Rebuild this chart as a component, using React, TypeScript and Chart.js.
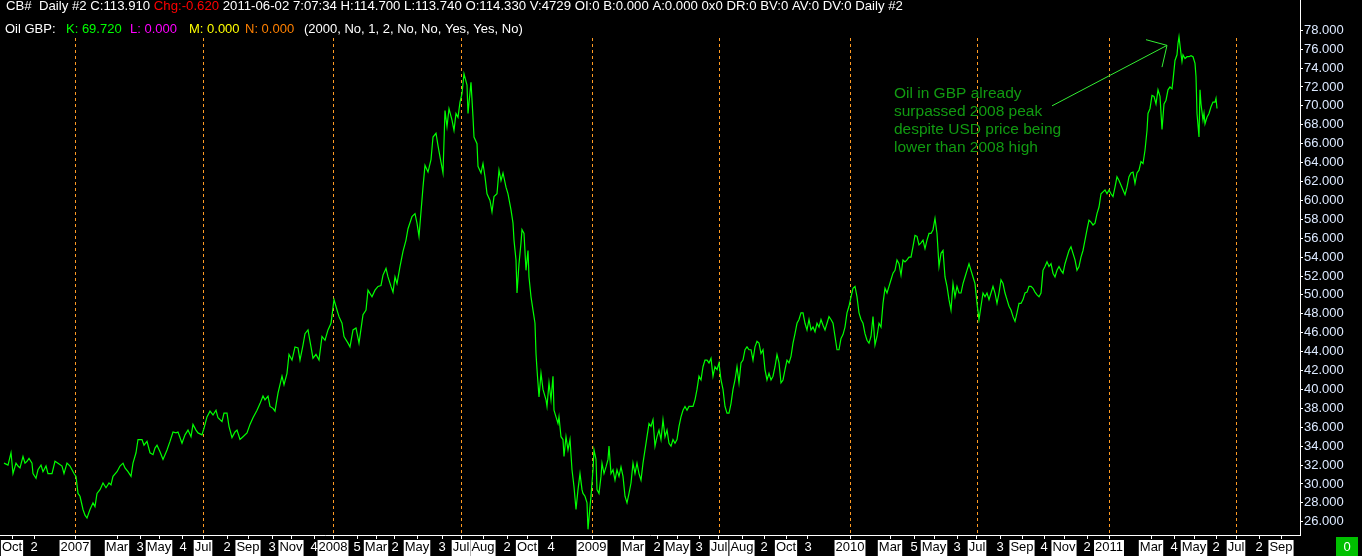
import React, { useEffect, useRef } from "react";
import { Chart, registerables } from "chart.js";

Chart.register(...registerables);

const FONT = "Arial, 'Liberation Sans', sans-serif";

// [trading day index, Oil price in GBP]
const oilGbpLate2006: [number, number][] = [
  [4, 32.2], [8, 32.0], [11, 33.3], [13, 31.1], [16, 32.2], [18, 31.9], [20, 31.7], [23, 32.9], [25, 32.2], [27, 32.4],
  [29, 32.7], [32, 32.2], [33, 31.1], [36, 30.6], [38, 31.5], [41, 32.0], [43, 31.3], [46, 31.9], [48, 31.1], [52, 31.1],
  [55, 32.4], [58, 32.2], [62, 31.9], [64, 31.1], [67, 32.2], [70, 31.9], [74, 31.1], [76, 30.8],
];

const oilGbp2007: [number, number][] = [
  [78, 29.0], [80, 28.7], [83, 27.3], [85, 26.7], [87, 26.4], [90, 27.3], [93, 28.0], [95, 27.6], [97, 29.0], [100, 29.4],
  [103, 30.1], [106, 29.6], [109, 30.1], [111, 29.9], [113, 30.8], [117, 31.3], [120, 31.9], [123, 32.2], [125, 31.7], [128, 31.3],
  [131, 30.8], [133, 32.2], [136, 33.3], [138, 34.7], [142, 34.7], [144, 34.1], [147, 34.5], [150, 33.3], [153, 33.1], [155, 33.8],
  [157, 34.1], [160, 33.4], [163, 32.6], [167, 33.6], [170, 34.5], [173, 35.5], [176, 35.4], [178, 35.5], [182, 34.3], [185, 35.2],
  [188, 35.7], [191, 35.0], [193, 36.3], [196, 35.7], [198, 35.4], [202, 35.2], [204, 35.9], [207, 37.1], [210, 37.7], [213, 37.3],
  [216, 37.8], [218, 37.0], [222, 36.6], [224, 37.5], [227, 37.5], [229, 36.1], [232, 34.9], [235, 35.5], [237, 35.7], [240, 34.7],
  [243, 35.0], [247, 35.4], [250, 36.3], [253, 37.0], [257, 37.8], [260, 38.5], [263, 39.3], [265, 38.9], [268, 39.3], [270, 38.2],
  [273, 38.0], [275, 37.7], [278, 39.6], [282, 41.4], [284, 40.5], [287, 41.7], [289, 43.7], [292, 43.1], [295, 44.5], [298, 44.4],
  [300, 43.1], [303, 44.7], [305, 45.9], [308, 46.3], [311, 44.5], [313, 43.3], [316, 43.7], [319, 43.1], [322, 45.6], [325, 45.2],
  [328, 46.3], [331, 47.0],
];

const oilGbp2008: [number, number][] = [
  [334, 49.5], [337, 48.4], [339, 47.7], [342, 47.0], [344, 45.6], [348, 44.9], [350, 44.5], [353, 46.3], [356, 46.5], [359, 44.9],
  [363, 47.9], [366, 48.4], [368, 50.5], [372, 49.8], [375, 50.5], [378, 50.9], [381, 51.0], [383, 52.1], [386, 52.8], [388, 51.9],
  [391, 50.9], [393, 50.3], [395, 51.9], [397, 51.2], [400, 53.0], [403, 54.6], [406, 55.8], [408, 57.0], [412, 58.3], [415, 58.6],
  [417, 57.6], [419, 56.2], [421, 58.8], [423, 61.4], [425, 63.7], [428, 63.0], [431, 64.3], [433, 66.7], [436, 67.1], [438, 65.8],
  [440, 64.6], [443, 62.9], [445, 69.5], [447, 67.8], [449, 69.7], [452, 68.5], [454, 67.4], [456, 69.2], [458, 68.8], [460, 70.4],
  [462, 71.3], [464, 73.4], [467, 72.2], [468, 69.2], [471, 72.5], [473, 68.8], [474, 66.7], [477, 66.0], [478, 63.6], [481, 62.9],
  [483, 63.9], [485, 62.5], [487, 60.7], [490, 60.0], [492, 58.8], [494, 60.4], [497, 60.7], [499, 63.2], [501, 62.1], [503, 62.9],
  [506, 61.4], [508, 60.7], [511, 59.0], [513, 57.6], [514, 55.8], [516, 53.7], [517, 50.2], [519, 53.3], [521, 55.5], [522, 56.9],
  [524, 56.5], [526, 52.6], [528, 54.7], [529, 51.9], [531, 49.8], [533, 48.4], [535, 47.0], [536, 43.8], [537, 42.1], [539, 39.2],
  [541, 41.7], [543, 40.0], [546, 38.9], [547, 38.2], [549, 40.7], [551, 38.9], [553, 41.4], [554, 37.8], [556, 37.1], [558, 36.4],
  [559, 37.1], [561, 35.0], [563, 34.7], [564, 32.9], [566, 35.0], [568, 33.6], [570, 34.7], [572, 31.5], [574, 29.7], [576, 27.3],
  [578, 29.4], [580, 31.1], [582, 29.4], [583, 29.0], [585, 28.7], [587, 28.0], [588, 25.2], [590, 27.6],
];

const oilGbp2009: [number, number][] = [
  [591, 28.7], [593, 31.5], [594, 33.6], [596, 32.6], [597, 29.4], [599, 29.0], [601, 30.8], [602, 32.2], [604, 31.1], [606, 31.8],
  [608, 32.6], [609, 34.0], [611, 31.1], [613, 31.5], [615, 30.4], [617, 31.5], [619, 30.8], [621, 31.8], [623, 30.8], [625, 28.7],
  [627, 28.0], [629, 29.0], [631, 30.1], [633, 32.2], [635, 31.1], [637, 32.2], [639, 31.1], [641, 30.4], [643, 32.2], [645, 33.6],
  [647, 35.0], [649, 36.4], [651, 36.1], [653, 36.8], [655, 34.0], [657, 35.0], [659, 35.7], [661, 34.7], [663, 36.8], [665, 35.0],
  [667, 35.7], [669, 34.3], [671, 34.0], [673, 34.7], [675, 34.3], [677, 34.7], [679, 36.1], [681, 37.1], [683, 37.8], [685, 38.2],
  [687, 37.8], [689, 38.2], [691, 38.2], [693, 38.2], [695, 38.9], [697, 40.0], [699, 41.4], [701, 41.0], [703, 42.4], [705, 43.1],
  [707, 43.1], [709, 42.8], [711, 43.3], [713, 41.4], [715, 42.4], [717, 42.1], [719, 42.8], [721, 41.0], [723, 40.0], [725, 38.2],
  [727, 37.5], [729, 37.5], [731, 38.5], [733, 40.0], [735, 41.0], [737, 42.4], [739, 40.7], [741, 42.8], [743, 43.1], [745, 44.2],
  [747, 44.5], [749, 44.2], [751, 44.2], [753, 43.1], [755, 44.5], [757, 45.1], [759, 44.9], [761, 43.8], [763, 44.2], [765, 42.1],
  [767, 41.0], [769, 41.7], [771, 41.0], [773, 41.4], [775, 42.4], [777, 43.7], [779, 42.8], [781, 40.7], [783, 41.0], [785, 42.1],
  [787, 43.1], [789, 42.8], [791, 43.5], [793, 44.9], [795, 45.9], [797, 47.0], [799, 47.4], [801, 48.1], [803, 48.1], [805, 47.0],
  [807, 46.3], [809, 47.4], [811, 46.3], [813, 46.6], [815, 46.1], [817, 47.0], [819, 46.6], [821, 47.4], [823, 46.8], [825, 46.3],
  [827, 47.0], [829, 47.7], [831, 47.4], [833, 47.0], [835, 45.6], [837, 44.2], [839, 44.2], [841, 45.4], [843, 45.8], [845, 46.6],
  [847, 48.1],
];

const oilGbp2010: [number, number][] = [
  [849, 48.8], [851, 49.8], [853, 50.7], [855, 50.9], [857, 49.8], [859, 48.1], [861, 47.4], [863, 47.0], [865, 45.9], [867, 45.2],
  [869, 44.9], [871, 45.6], [873, 47.7], [875, 44.7], [877, 45.6], [879, 47.0], [881, 46.6], [883, 49.1], [885, 50.7], [887, 50.2],
  [889, 50.9], [891, 51.6], [893, 52.3], [895, 52.6], [897, 53.7], [899, 53.3], [901, 52.1], [903, 53.7], [905, 53.5], [907, 53.7],
  [909, 54.0], [911, 54.0], [913, 55.1], [915, 56.3], [917, 56.2], [919, 55.3], [921, 55.5], [923, 55.8], [925, 54.9], [927, 55.8],
  [929, 56.5], [931, 56.5], [933, 56.9], [935, 58.1], [937, 56.5], [939, 53.0], [941, 54.4], [943, 54.7], [945, 51.9], [947, 50.9],
  [949, 49.5], [951, 48.4], [953, 51.2], [955, 49.8], [957, 50.9], [959, 50.2], [961, 50.2], [963, 51.2], [965, 51.9], [967, 52.6],
  [969, 53.3], [971, 52.6], [973, 51.9], [975, 51.2], [977, 49.1], [979, 47.4], [981, 48.8], [983, 50.2], [985, 49.8], [987, 50.2],
  [989, 49.5], [991, 50.2], [993, 50.9], [995, 50.2], [997, 49.1], [999, 50.2], [1001, 51.6], [1003, 51.2], [1005, 50.2], [1007, 49.5],
  [1009, 48.8], [1011, 48.4], [1013, 47.7], [1015, 47.2], [1017, 48.1], [1019, 49.1], [1021, 49.1], [1023, 49.5], [1025, 50.2], [1027, 50.3],
  [1029, 50.9], [1031, 50.9], [1033, 50.7], [1035, 50.3], [1037, 50.0], [1039, 49.8], [1041, 50.2], [1043, 52.6], [1045, 53.0], [1047, 53.5],
  [1049, 53.0], [1051, 53.3], [1053, 52.3], [1055, 51.9], [1057, 52.6], [1059, 53.0], [1061, 52.6], [1063, 52.3], [1065, 53.3], [1067, 54.0],
  [1069, 54.7], [1071, 55.1], [1073, 54.4], [1075, 53.7], [1077, 52.6], [1079, 53.0], [1081, 54.0], [1083, 54.7], [1085, 55.8], [1087, 56.9],
  [1089, 57.9], [1091, 57.7], [1093, 57.4], [1095, 57.6], [1097, 58.6], [1099, 59.3], [1101, 60.7], [1103, 60.9], [1105, 61.1], [1107, 60.7],
];

const oilGbp2011: [number, number][] = [
  [1109, 61.1], [1111, 60.7], [1113, 60.4], [1115, 61.4], [1117, 62.5], [1119, 62.1], [1121, 61.6], [1123, 61.1], [1125, 60.6], [1127, 61.4],
  [1129, 62.5], [1131, 62.9], [1133, 63.0], [1135, 61.8], [1137, 62.9], [1139, 63.2], [1141, 64.1], [1143, 63.9], [1145, 65.3], [1147, 67.4],
  [1148, 69.2], [1150, 69.7], [1152, 71.1], [1154, 71.0], [1156, 70.2], [1158, 71.7], [1160, 71.0], [1162, 67.5], [1164, 70.2], [1166, 70.6],
  [1168, 71.7], [1170, 72.0], [1172, 71.8], [1173, 72.7], [1175, 74.8], [1177, 75.4], [1178, 76.6], [1179, 77.3], [1181, 75.5], [1182, 74.7],
  [1183, 75.4], [1185, 75.0], [1187, 75.2], [1189, 75.2], [1191, 75.3], [1193, 75.2], [1195, 74.5], [1196, 73.1], [1197, 69.2], [1199, 66.7],
  [1200, 71.7], [1201, 70.2], [1203, 68.5], [1204, 69.2], [1205, 68.1], [1207, 68.8], [1209, 69.2], [1211, 69.9], [1213, 70.4], [1215, 70.4],
  [1216, 70.8], [1217, 69.72],
];

const xTickDays = [
  12, 34, 75, 117, 140, 159, 183, 203, 227, 248, 272, 291, 314, 333, 357, 376, 395, 417, 442, 461,
  483, 507, 527, 551, 592, 633, 657, 677, 699, 719, 742, 764, 786, 808, 850, 890, 914, 934, 957, 977,
  1000, 1022, 1044, 1064, 1087, 1109, 1151, 1174, 1194, 1216, 1236, 1259, 1281,
];
const xTickLabels = [
  "Oct", "2", "2007", "Mar", "3", "May", "4", "Jul", "2", "Sep", "3", "Nov", "4", "2008", "5", "Mar", "2", "May", "3", "Jul",
  "Aug", "2", "Oct", "4", "2009", "Mar", "2", "May", "3", "Jul", "Aug", "2", "Oct", "3", "2010", "Mar", "5", "May", "3", "Jul",
  "3", "Sep", "4", "Nov", "2", "2011", "Mar", "4", "May", "2", "Jul", "2", "Sep",
];
const yTickValues = [26, 28, 30, 32, 34, 36, 38, 40, 42, 44, 46, 48, 50, 52, 54, 56, 58, 60, 62, 64, 66, 68, 70, 72, 74, 76, 78];

const headerLine1: [string, string][] = [
  ["CB#  Daily #2 C:113.910 ", "#ffffff"],
  ["Chg:-0.620", "#ff0000"],
  [" 2011-06-02 7:07:34 H:114.700 L:113.740 O:114.330 V:4729 OI:0 B:0.000 A:0.000 0x0 DR:0 BV:0 AV:0 DV:0 Daily #2", "#ffffff"],
];
const headerLine2: [string, string, number][] = [
  ["Oil GBP:", "#ffffff", 5],
  ["K: 69.720", "#00ff00", 66],
  ["L: 0.000", "#ff00ff", 130],
  ["M: 0.000", "#ffff00", 189],
  ["N: 0.000", "#ff8000", 245],
  ["(2000, No, 1, 2, No, No, Yes, Yes, No)", "#ffffff", 304],
];
const noteLines = [
  "Oil in GBP already",
  "surpassed 2008 peak",
  "despite USD price being",
  "lower than 2008 high",
];
// annotation anchors in data space [day, price]
const noteTextAnchor: [number, number] = [894, 70.8];
const noteArrowTail: [number, number] = [1052, 70.0];
const noteArrowTip: [number, number] = [1167, 76.4];
const noteArrowHeadA: [number, number] = [1146, 77.0];
const noteArrowHeadB: [number, number] = [1162, 74.1];

const isPlainNumber = (s: string) => /^\d$/.test(s);
const isMajor = (s: string) => s === "Jul" || /^\d{4}$/.test(s);

export default function App() {
  const ref = useRef<HTMLCanvasElement>(null);

  useEffect(() => {
    document.body.style.margin = "0";
    document.body.style.background = "#000";
    const canvas = ref.current;
    if (!canvas) return;

    const points = [
      ...oilGbpLate2006,
      ...oilGbp2007,
      ...oilGbp2008,
      ...oilGbp2009,
      ...oilGbp2010,
      ...oilGbp2011,
    ].map(([x, y]) => ({ x, y }));

    const bgPlugin = {
      id: "bg",
      beforeDraw(chart: any) {
        const { ctx, width, height } = chart;
        ctx.save();
        ctx.fillStyle = "#000";
        ctx.fillRect(0, 0, width, height);
        ctx.restore();
      },
    };

    const gridPlugin = {
      id: "dashedGrid",
      beforeDatasetsDraw(chart: any) {
        const { ctx, chartArea, scales } = chart;
        ctx.save();
        ctx.strokeStyle = "#ff9a22";
        ctx.lineWidth = 1;
        ctx.setLineDash([3, 3]);
        xTickDays.forEach((d, i) => {
          if (!isMajor(xTickLabels[i])) return;
          const px = Math.round(scales.x.getPixelForValue(d)) + 0.5;
          ctx.beginPath();
          ctx.moveTo(px, 38);
          ctx.lineTo(px, chartArea.bottom);
          ctx.stroke();
        });
        ctx.restore();
      },
    };

    const textPlugin = {
      id: "texts",
      afterDraw(chart: any) {
        const { ctx, scales } = chart;
        const toPx = (p: [number, number]) => [scales.x.getPixelForValue(p[0]), scales.y.getPixelForValue(p[1])];
        ctx.save();
        ctx.textAlign = "left";
        ctx.textBaseline = "alphabetic";
        ctx.font = `13.2px ${FONT}`;
        let x = 6;
        headerLine1.forEach(([t, c]) => {
          ctx.fillStyle = c;
          ctx.fillText(t, x, 10);
          x += ctx.measureText(t).width;
        });
        ctx.font = `13px ${FONT}`;
        headerLine2.forEach(([t, c, px]) => {
          ctx.fillStyle = c;
          ctx.fillText(t, px, 33);
        });

        // annotation
        const [tx, ty] = toPx(noteTextAnchor);
        ctx.font = `15.5px ${FONT}`;
        ctx.fillStyle = "#119a11";
        noteLines.forEach((t, i) => ctx.fillText(t, tx, ty + i * 18));

        const tail = toPx(noteArrowTail);
        const tip = toPx(noteArrowTip);
        const ha = toPx(noteArrowHeadA);
        const hb = toPx(noteArrowHeadB);
        ctx.strokeStyle = "#33ee33";
        ctx.lineWidth = 1;
        ctx.beginPath();
        ctx.moveTo(tail[0], tail[1]);
        ctx.lineTo(tip[0], tip[1]);
        ctx.moveTo(ha[0], ha[1]);
        ctx.lineTo(tip[0], tip[1]);
        ctx.lineTo(hb[0], hb[1]);
        ctx.stroke();

        // corner box
        ctx.fillStyle = "#00c000";
        ctx.fillRect(1336, 537, 22, 19);
        ctx.fillStyle = "#ffffff";
        ctx.font = `13px ${FONT}`;
        ctx.textAlign = "center";
        ctx.textBaseline = "middle";
        ctx.fillText("0", 1347, 547);
        ctx.restore();
      },
    };

    const chart = new Chart(canvas, {
      type: "line",
      data: {
        datasets: [
          {
            label: "Oil GBP",
            data: points,
            borderColor: "#00ff00",
            borderWidth: 1.2,
            pointRadius: 0,
            tension: 0,
            fill: false,
          },
        ],
      },
      options: {
        responsive: false,
        devicePixelRatio: 1,
        animation: false,
        layout: { padding: 0 },
        plugins: {
          legend: { display: false },
          tooltip: { enabled: false },
        },
        scales: {
          x: {
            type: "linear",
            position: "bottom",
            min: 0,
            max: 1300,
            afterBuildTicks: (s: any) => {
              s.ticks = xTickDays.map((v) => ({ value: v }));
            },
            afterFit: (s: any) => {
              s.height = 21;
              s.paddingLeft = 0;
              s.paddingRight = 0;
            },
            grid: { drawOnChartArea: false, drawTicks: true, tickLength: 4, color: "#ffffff" },
            border: { display: true, color: "#ffffff", width: 1 },
            ticks: {
              autoSkip: false,
              maxRotation: 0,
              minRotation: 0,
              padding: 1,
              font: { family: FONT, size: 13 },
              color: (c: any) => (isPlainNumber(xTickLabels[c.index] || "") ? "#ffffff" : "#000000"),
              showLabelBackdrop: true,
              backdropColor: (c: any) => (isPlainNumber(xTickLabels[c.index] || "") ? "rgba(0,0,0,0)" : "#ffffff"),
              backdropPadding: { top: 0, bottom: 1, left: 1, right: 1 },
              callback: (_v: any, i: number) => xTickLabels[i],
            },
          } as any,
          y: {
            type: "linear",
            position: "right",
            min: 24.6,
            max: 81.2,
            afterBuildTicks: (s: any) => {
              s.ticks = yTickValues.map((v) => ({ value: v }));
            },
            afterFit: (s: any) => {
              s.width = 62;
              s.paddingTop = 0;
              s.paddingBottom = 0;
            },
            grid: { drawOnChartArea: false, drawTicks: true, tickLength: 3, color: "#ffffff" },
            border: { display: true, color: "#ffffff", width: 1 },
            ticks: {
              padding: 1,
              color: "#dce9ff",
              font: { family: FONT, size: 13 },
              callback: (v: any) => Number(v).toFixed(3),
            },
          } as any,
        },
      },
      plugins: [bgPlugin, gridPlugin, textPlugin],
    });

    return () => chart.destroy();
  }, []);

  return (
    <div style={{ width: 1362, height: 556, background: "#000", overflow: "hidden" }}>
      <canvas ref={ref} width={1362} height={556} style={{ display: "block", width: 1362, height: 556 }} />
    </div>
  );
}
